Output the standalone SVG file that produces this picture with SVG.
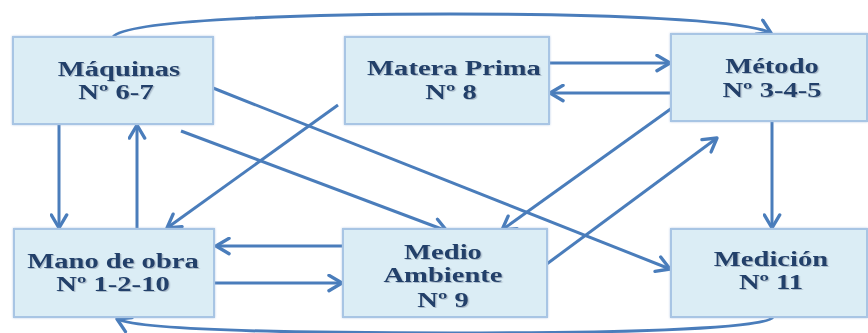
<svg xmlns="http://www.w3.org/2000/svg" width="868" height="333" viewBox="0 0 868 333">
  <style>
    .box { fill: #dbedf5; stroke: #a8c5e4; stroke-width: 2; filter: url(#glow); }
    .lbl { font-family: "Liberation Serif", "Times New Roman", serif; font-weight: bold; font-size: 22px; fill: #22406a; text-anchor: middle; filter: url(#tshadow); }
    .edge { fill: none; stroke: #4a7dbb; stroke-width: 3; marker-end: url(#arrow); }
  </style>
  <defs>
    <filter id="glow" x="-5%" y="-5%" width="110%" height="110%">
      <feGaussianBlur in="SourceAlpha" stdDeviation="1.2" result="b"/>
      <feFlood flood-color="#9bb9dc" flood-opacity="0.7"/>
      <feComposite in2="b" operator="in" result="g"/>
      <feMerge><feMergeNode in="g"/><feMergeNode in="SourceGraphic"/></feMerge>
    </filter>
    <filter id="tshadow" x="-10%" y="-20%" width="120%" height="140%">
      <feDropShadow dx="1" dy="1" stdDeviation="0.6" flood-color="#7a8aa0" flood-opacity="0.5"/>
    </filter>
    <marker id="arrow" markerUnits="userSpaceOnUse" markerWidth="19" markerHeight="19" refX="13" refY="8" orient="auto" viewBox="0 0 16 16">
      <path d="M2,1.5 L13,8 L2,14.5" fill="none" stroke="#4a7dbb" stroke-width="2.8" stroke-linecap="round" stroke-linejoin="round"/>
    </marker>
  </defs>

  <!-- connectors -->
  <g id="connectors">
    <!-- loop over the top: Máquinas to Método -->
    <path class="edge" d="M113,37 C125,20 300,14 450,14 C610,14 745,20 771,33"/>
    <!-- loop under the bottom: Medición to Mano de obra -->
    <path class="edge" d="M773,317 C765,330 600,333 450,333 C300,333 140,330 117,319"/>
    <!-- Máquinas / Mano de obra -->
    <line class="edge" x1="59" y1="124" x2="59" y2="228"/>
    <line class="edge" x1="137" y1="229" x2="137" y2="125"/>
    <!-- Matera Prima / Método -->
    <line class="edge" x1="545" y1="63" x2="670" y2="63"/>
    <line class="edge" x1="671" y1="93" x2="550" y2="93"/>
    <!-- Matera Prima to Mano de obra -->
    <line class="edge" x1="338" y1="105" x2="167" y2="228"/>
    <!-- Máquinas to Medición -->
    <line class="edge" x1="213" y1="88" x2="670" y2="269"/>
    <!-- Máquinas to Medio Ambiente -->
    <line class="edge" x1="181" y1="131" x2="447" y2="231"/>
    <!-- Método to Medio Ambiente -->
    <line class="edge" x1="672" y1="108" x2="502" y2="230"/>
    <!-- Medio Ambiente to Método -->
    <line class="edge" x1="540" y1="269" x2="717" y2="138"/>
    <!-- Medio Ambiente / Mano de obra -->
    <line class="edge" x1="343" y1="246" x2="216" y2="246"/>
    <line class="edge" x1="215" y1="283" x2="342" y2="283"/>
    <!-- Método to Medición -->
    <line class="edge" x1="772" y1="121" x2="772" y2="228"/>
  </g>

  <!-- labels are set in a widened Times-style face (scaled 1.3 horizontally) -->
  <g id="maquinas">
    <rect class="box" x="13" y="37" width="200" height="87"/>
    <text class="lbl" transform="translate(119,76) scale(1.3,1)">Máquinas</text>
    <text class="lbl" transform="translate(116,99) scale(1.3,1)">Nº 6-7</text>
  </g>
  <g id="materia-prima">
    <rect class="box" x="345" y="37" width="204" height="87"/>
    <text class="lbl" transform="translate(454,75) scale(1.3,1)">Matera Prima</text>
    <text class="lbl" transform="translate(451,99) scale(1.3,1)">Nº 8</text>
  </g>
  <g id="metodo">
    <rect class="box" x="671" y="34" width="196" height="87"/>
    <text class="lbl" transform="translate(772,73) scale(1.3,1)">Método</text>
    <text class="lbl" transform="translate(772,97) scale(1.3,1)">Nº 3-4-5</text>
  </g>
  <g id="mano-de-obra">
    <rect class="box" x="14" y="229" width="200" height="88"/>
    <text class="lbl" transform="translate(113,268) scale(1.3,1)">Mano de obra</text>
    <text class="lbl" transform="translate(113,291) scale(1.3,1)">Nº 1-2-10</text>
  </g>
  <g id="medio-ambiente">
    <rect class="box" x="343" y="229" width="204" height="88"/>
    <text class="lbl" transform="translate(443,259) scale(1.3,1)">Medio</text>
    <text class="lbl" transform="translate(443,282) scale(1.3,1)">Ambiente</text>
    <text class="lbl" transform="translate(443,307) scale(1.3,1)">Nº 9</text>
  </g>
  <g id="medicion">
    <rect class="box" x="671" y="229" width="196" height="88"/>
    <text class="lbl" transform="translate(771,266) scale(1.3,1)">Medición</text>
    <text class="lbl" transform="translate(771,289) scale(1.3,1)">Nº 11</text>
  </g>
</svg>
